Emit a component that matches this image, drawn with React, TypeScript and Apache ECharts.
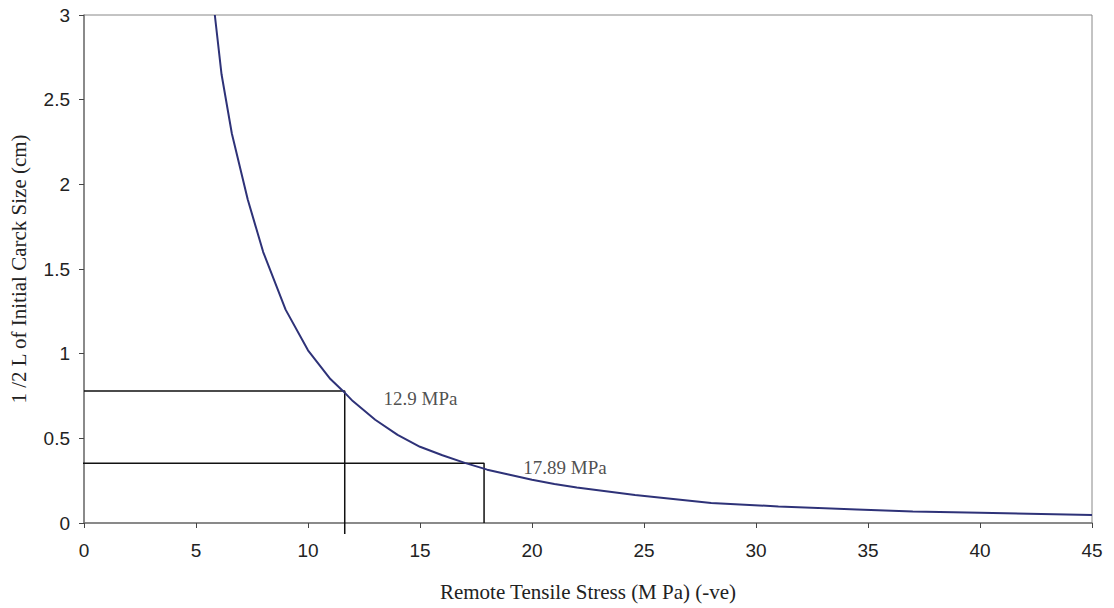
import React, { useEffect, useRef } from "react";
import * as echarts from "echarts";

// Curve: remote tensile stress (MPa) vs half initial crack size (cm)
const stress = [5.84, 6.14, 6.6, 7.31, 8, 9, 10, 11, 11.56, 12, 13, 14, 15, 16, 17, 18, 19, 20, 21, 22, 24.6, 28, 31, 34.5, 37, 40, 45];
const halfCrack = [3.0, 2.65, 2.3, 1.91, 1.6, 1.26, 1.02, 0.85, 0.78, 0.72, 0.61, 0.52, 0.45, 0.4, 0.355, 0.315, 0.285, 0.255, 0.23, 0.21, 0.165, 0.118, 0.098, 0.08, 0.068, 0.06, 0.047];

// Reference guide lines
const guide1X = [0, 11.64, 11.64];
const guide1Y = [0.78, 0.78, -0.065];
const guide2X = [-0.8, 17.86, 17.86];
const guide2Y = [0.353, 0.353, 0];

// Annotation labels
const annoText = ["12.9 MPa", "17.89 MPa"];
const annoX = [13.37, 19.61];
const annoY = [0.738, 0.325];

const xTicks = [0, 5, 10, 15, 20, 25, 30, 35, 40, 45];
const yTicks = [0, 0.5, 1, 1.5, 2, 2.5, 3];

export default function App() {
  const ref = useRef<HTMLDivElement>(null);
  useEffect(() => {
    if (!ref.current) return;
    const chart = echarts.init(ref.current, null, { renderer: "svg" });
    const tickFont = { fontFamily: "Liberation Sans", fontSize: 19, color: "#222" };
    const serif = "Liberation Serif";
    chart.setOption({
      animation: false,
      backgroundColor: "#fff",
      grid: { left: 83, right: 22, top: 15, bottom: 85, show: true, borderColor: "#888", borderWidth: 1 },
      xAxis: {
        type: "value",
        min: xTicks[0],
        max: xTicks[xTicks.length - 1],
        interval: 5,
        name: "Remote Tensile Stress (M Pa) (-ve)",
        nameLocation: "middle",
        nameGap: 58,
        nameTextStyle: { fontFamily: serif, fontSize: 21, color: "#222" },
        axisLine: { lineStyle: { color: "#777", width: 1.5 } },
        axisTick: { show: true, length: 5, lineStyle: { color: "#444" } },
        axisLabel: { ...tickFont, margin: 18 },
        splitLine: { show: false },
      },
      yAxis: {
        type: "value",
        min: yTicks[0],
        max: yTicks[yTicks.length - 1],
        interval: 0.5,
        name: "1 /2 L of Initial Carck Size (cm)",
        nameLocation: "middle",
        nameGap: 55,
        nameTextStyle: { fontFamily: serif, fontSize: 21, color: "#222" },
        axisLine: { show: true, lineStyle: { color: "#777", width: 1.5 } },
        axisTick: { show: true, length: 5, lineStyle: { color: "#444" } },
        axisLabel: { ...tickFont, margin: 14 },
        splitLine: { show: false },
      },
      series: [
        {
          type: "line",
          data: stress.map((x, i) => [x, halfCrack[i]]),
          showSymbol: false,
          lineStyle: { color: "#2e3278", width: 2 },
          z: 3,
        },
        {
          type: "line",
          data: guide1X.map((x, i) => [x, guide1Y[i]]),
          showSymbol: false,
          clip: false,
          lineStyle: { color: "#111", width: 1.5 },
          z: 2,
        },
        {
          type: "line",
          data: guide2X.map((x, i) => [x, guide2Y[i]]),
          showSymbol: false,
          clip: false,
          lineStyle: { color: "#111", width: 1.5 },
          z: 2,
        },
        {
          type: "scatter",
          symbolSize: 0,
          data: annoX.map((x, i) => ({ value: [x, annoY[i]], label: { formatter: annoText[i] } })),
          label: {
            show: true,
            position: "right",
            distance: 0,
            fontFamily: serif,
            fontSize: 19,
            color: "#222",
          },
          silent: true,
        },
      ],
    });
    return () => chart.dispose();
  }, []);
  return <div ref={ref} style={{ position: "fixed", left: 0, top: 0, width: 1114, height: 608 }} />;
}
